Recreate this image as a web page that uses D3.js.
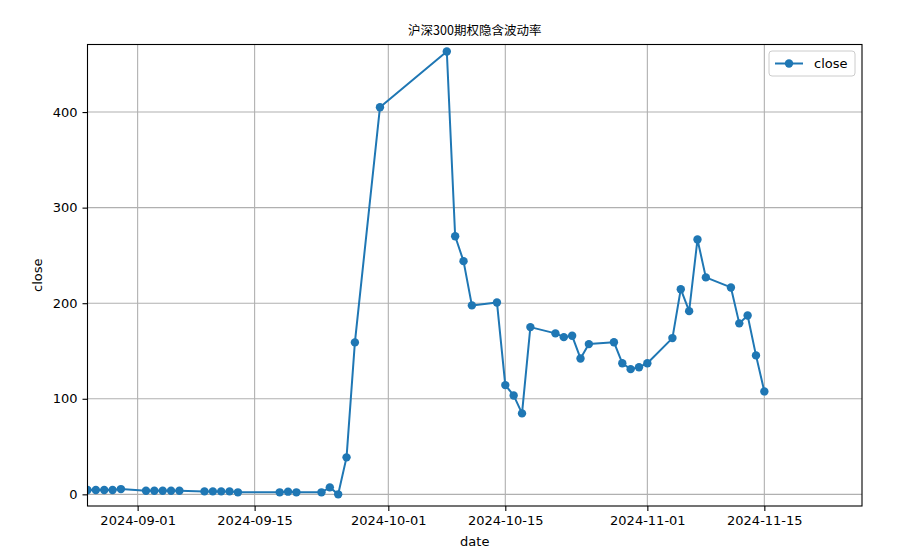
<!DOCTYPE html>
<html>
<head>
<meta charset="utf-8">
<script src="https://cdn.jsdelivr.net/npm/d3@7"></script>
<style>
  body { margin: 0; background: #fff; }
  svg { display: block; font-family: "DejaVu Sans", sans-serif; }
</style>
</head>
<body>
<script>
// trading days and closing values
const dates = [
  "2024-08-26","2024-08-27","2024-08-28","2024-08-29","2024-08-30",
  "2024-09-02","2024-09-03","2024-09-04","2024-09-05","2024-09-06",
  "2024-09-09","2024-09-10","2024-09-11","2024-09-12","2024-09-13",
  "2024-09-18","2024-09-19","2024-09-20",
  "2024-09-23","2024-09-24","2024-09-25","2024-09-26","2024-09-27",
  "2024-09-30",
  "2024-10-08","2024-10-09","2024-10-10","2024-10-11",
  "2024-10-14","2024-10-15","2024-10-16","2024-10-17","2024-10-18",
  "2024-10-21","2024-10-22","2024-10-23","2024-10-24","2024-10-25",
  "2024-10-28","2024-10-29","2024-10-30","2024-10-31","2024-11-01",
  "2024-11-04","2024-11-05","2024-11-06","2024-11-07","2024-11-08",
  "2024-11-11","2024-11-12","2024-11-13","2024-11-14","2024-11-15"
];
const close = [
  4.5, 4.5, 4.5, 4.5, 5.5,
  3.8, 3.8, 3.8, 3.8, 3.8,
  3.1, 3.1, 3.1, 3.1, 2.1,
  2.1, 2.8, 2.1,
  2.1, 7.3, 0.0, 38.7, 159,
  405,
  463.4, 270, 244, 197.7,
  200.8, 114.3, 103.5, 84.7, 175,
  168.4, 164.5, 165.9, 142.2, 157.2,
  159.2, 137.2, 131, 133, 137.2,
  163.5, 214.7, 191.7, 266.7, 227,
  216.5, 178.9, 187.2, 145.4, 107.7
];
const yTicks = [0, 100, 200, 300, 400];
const xTicks = ["2024-09-01","2024-09-15","2024-10-01","2024-10-15","2024-11-01","2024-11-15"];

const W = 906, H = 552;
const pLeft = 87.5, pRight = 862, pTop = 44.5, pBottom = 506;
const blue = "#1f77b4";

const parse = d3.timeParse("%Y-%m-%d");
const data = dates.map((d, i) => ({ date: parse(d), value: close[i] }));

const xScale = d3.scaleTime()
  .domain([parse("2024-08-26"), new Date(2024, 10, 26, 16, 30)])
  .range([pLeft, pRight]);
const yScale = d3.scaleLinear()
  .domain([-12.2, 470.7])
  .range([pBottom, pTop]);

const svg = d3.select("body").append("svg")
  .attr("width", W)
  .attr("height", H);

// grid
svg.append("g").selectAll("line")
  .data(xTicks)
  .enter().append("line")
  .attr("x1", d => xScale(parse(d))).attr("x2", d => xScale(parse(d)))
  .attr("y1", pTop).attr("y2", pBottom)
  .attr("stroke", "#b0b0b0").attr("stroke-width", 1.1);
svg.append("g").selectAll("line")
  .data(yTicks)
  .enter().append("line")
  .attr("x1", pLeft).attr("x2", pRight)
  .attr("y1", d => yScale(d)).attr("y2", d => yScale(d))
  .attr("stroke", "#b0b0b0").attr("stroke-width", 1.1);

// axes
const xAxis = d3.axisBottom(xScale)
  .tickValues(xTicks.map(parse))
  .tickFormat(d3.timeFormat("%Y-%m-%d"))
  .tickSize(5).tickPadding(5);
const gx = svg.append("g")
  .attr("transform", "translate(0," + pBottom + ")")
  .call(xAxis);
gx.select(".domain").remove();

const yAxis = d3.axisLeft(yScale)
  .tickValues(yTicks)
  .tickSize(5).tickPadding(5);
const gy = svg.append("g")
  .attr("transform", "translate(" + pLeft + ",0)")
  .call(yAxis);
gy.select(".domain").remove();

svg.selectAll(".tick text")
  .attr("font-family", "DejaVu Sans")
  .attr("font-size", 13)
  .attr("fill", "#000");
svg.selectAll(".tick line").attr("stroke", "#000").attr("stroke-width", 1.1);

// clip for line
svg.append("clipPath").attr("id", "clip")
  .append("rect")
  .attr("x", pLeft).attr("y", pTop)
  .attr("width", pRight - pLeft).attr("height", pBottom - pTop);

const line = d3.line()
  .x(d => xScale(d.date))
  .y(d => yScale(d.value));

const plot = svg.append("g").attr("clip-path", "url(#clip)");
plot.append("path")
  .datum(data)
  .attr("d", line)
  .attr("fill", "none")
  .attr("stroke", blue)
  .attr("stroke-width", 2)
  .attr("stroke-linejoin", "round");
plot.selectAll("circle")
  .data(data)
  .enter().append("circle")
  .attr("cx", d => xScale(d.date))
  .attr("cy", d => yScale(d.value))
  .attr("r", 4.2)
  .attr("fill", blue);

// frame
svg.append("rect")
  .attr("x", pLeft).attr("y", pTop)
  .attr("width", pRight - pLeft).attr("height", pBottom - pTop)
  .attr("fill", "none")
  .attr("stroke", "#000")
  .attr("stroke-width", 1.1);

// labels
svg.append("text")
  .attr("x", (pLeft + pRight) / 2).attr("y", 35)
  .attr("text-anchor", "middle")
  .attr("font-family", "Noto Sans CJK SC")
  .attr("font-size", 12.5)
  .text("沪深300期权隐含波动率");
svg.append("text")
  .attr("x", (pLeft + pRight) / 2).attr("y", 546)
  .attr("text-anchor", "middle")
  .attr("font-size", 13)
  .text("date");
svg.append("text")
  .attr("transform", "translate(42," + ((pTop + pBottom) / 2) + ") rotate(-90)")
  .attr("text-anchor", "middle")
  .attr("font-size", 13)
  .text("close");

// legend
const lg = svg.append("g").attr("transform", "translate(769,51)");
lg.append("rect")
  .attr("width", 86).attr("height", 25)
  .attr("rx", 3)
  .attr("fill", "#fff").attr("fill-opacity", 0.8)
  .attr("stroke", "#cccccc");
lg.append("line")
  .attr("x1", 6).attr("x2", 34).attr("y1", 12.5).attr("y2", 12.5)
  .attr("stroke", blue).attr("stroke-width", 2);
lg.append("circle")
  .attr("cx", 20).attr("cy", 12.5).attr("r", 4.2).attr("fill", blue);
lg.append("text")
  .attr("x", 45).attr("y", 17)
  .attr("font-size", 13)
  .text("close");
</script>
</body>
</html>
